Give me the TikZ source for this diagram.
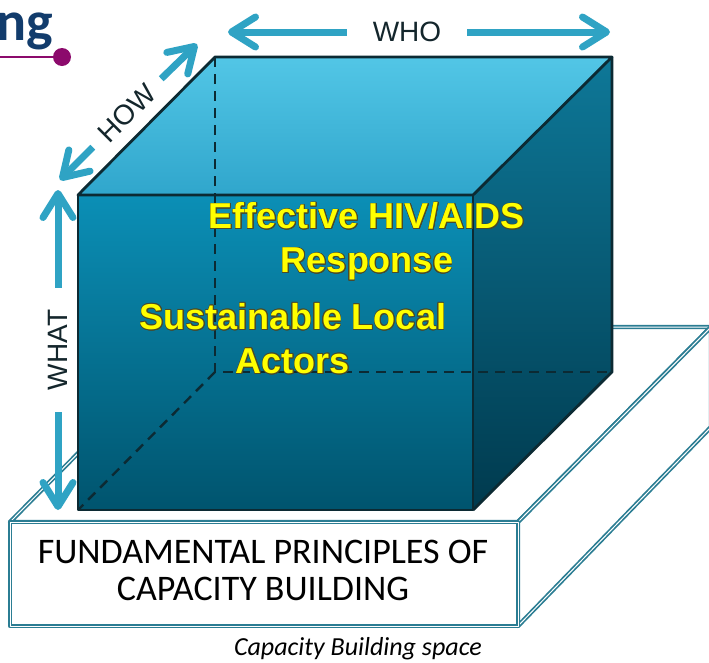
\documentclass[tikz,border=0pt]{standalone}
\usepackage{fontspec}
\setmainfont{Liberation Sans}
\newfontfamily\calfont{Carlito}
\usepackage{contour}
\usetikzlibrary{arrows.meta}
\definecolor{arrowblue}{HTML}{2FA3C4}
\definecolor{cubeline}{HTML}{0C2A33}
\definecolor{slabteal}{HTML}{2B7D93}
\definecolor{labeldark}{HTML}{14262C}
\definecolor{goalyellow}{HTML}{FFFF00}
\definecolor{goalrim}{HTML}{4A4A2A}
\definecolor{logonavy}{HTML}{123C6C}
\definecolor{logopurple}{HTML}{8C0A6C}
\contourlength{0.7pt}
\tikzset{
    cubeedge/.style = {draw = cubeline, line width = 2.8pt, line join = round},
    hiddenedge/.style = {draw = cubeline, line width = 2.4pt, dash pattern = on 10pt off 7pt},
    slabline/.style = {draw = slabteal, double = white, double distance = 1pt, line width = 1.7pt, line join = round},
    dimension/.style = {font = \fontsize{28}{30}\selectfont, text = labeldark, inner ysep = 0pt},
    dimarrow/.style = {draw = arrowblue, line width = 7pt, -{Straight Barb[length = 24pt, width = 30pt, round]}},
    goal/.style = {font = \bfseries\fontsize{36}{44}\selectfont, text = goalyellow, align = center, inner sep = 0pt},
    base text/.style = {font = \calfont\fontsize{36}{37}\selectfont, align = center, inner sep = 0pt}
}
\begin{document}
\begin{tikzpicture}[x = 1pt, y = -1pt]
    \useasboundingbox (0,0) rectangle (709,662);
    \clip (0,0) rectangle (709,662);
    % logo fragment
    \node [anchor = base east, inner sep = 0pt, text = logonavy, font = \calfont\bfseries\fontsize{56}{56}\selectfont] (logo) at (53,40) {ng};
    \coordinate (lstart) at (0,57);
    \node [circle, fill = logopurple, minimum size = 18pt, inner sep = 0pt] (ldot) at (62,57) {};
    \draw [logopurple, line width = 2.5pt] (lstart) -- (ldot);
    % slab
    \coordinate (sTL) at (10,522);
    \coordinate (sTR) at (518,522);
    \coordinate (sBR) at (518,626);
    \coordinate (sBL) at (10,626);
    \coordinate (sbTL) at (203,327);
    \coordinate (sbTR) at (711,327);
    \coordinate (sbBR) at (711,427);
    \draw [slabline, fill = white] (sTL) -- (sbTL) -- (sbTR) -- (sTR) -- cycle;
    \draw [slabline, fill = white] (sTR) -- (sbTR) -- (sbBR) -- (sBR) -- cycle;
    \draw [slabline, fill = white] (sTL) rectangle (sBR);
    \node [base text] (fund) at (263,570) {FUNDAMENTAL PRINCIPLES OF\\CAPACITY BUILDING};
    % cube
    \coordinate (fTL) at (78,195);
    \coordinate (fTR) at (473,195);
    \coordinate (fBR) at (473,510);
    \coordinate (fBL) at (78,510);
    \coordinate (bTL) at (215,57);
    \coordinate (bTR) at (612,57);
    \coordinate (bBR) at (612,372);
    \coordinate (bBL) at (215,372);
    \fill [top color = {rgb,255:red,82;green,198;blue,230}, bottom color = {rgb,255:red,48;green,166;blue,204}] (fTL) -- (bTL) -- (bTR) -- (fTR) -- cycle;
    \fill [top color = {rgb,255:red,11;green,143;blue,182}, bottom color = {rgb,255:red,0;green,84;blue,110}] (fTL) rectangle (fBR);
    \fill [top color = {rgb,255:red,14;green,120;blue,152}, bottom color = {rgb,255:red,0;green,58;blue,78}] (fTR) -- (bTR) -- (bBR) -- (fBR) -- cycle;
    \draw [hiddenedge] (bTL) -- (bBL) -- (bBR);
    \draw [hiddenedge] (bBL) -- (fBL);
    \draw [cubeedge] (fTL) -- (bTL) -- (bTR) -- (fTR) -- cycle;
    \draw [cubeedge] (fTL) rectangle (fBR);
    \draw [cubeedge] (bTR) -- (bBR) -- (fBR);
    \node [goal] (hiv) at (367,242) {\contour{goalrim}{Effective HIV/AIDS}\\\contour{goalrim}{Response}};
    \node [goal] (actors) at (293,339) {\contour{goalrim}{Sustainable Local}\\\contour{goalrim}{Actors}};
    % dimensions
    \node [dimension, inner xsep = 26pt] (who) at (407,32) {WHO};
    \node [dimension, inner xsep = 14pt, rotate = 45] (how) at (127,113) {HOW};
    \node [dimension, inner xsep = 22pt, rotate = 90] (what) at (58,350) {WHAT};
    \coordinate (whoL) at (228,32);
    \coordinate (whoR) at (610,32);
    \coordinate (howU) at (197,44);
    \coordinate (howD) at (60,180);
    \coordinate (whatU) at (58,190);
    \coordinate (whatD) at (58,510);
    \draw [dimarrow] (who.west) -- (whoL);
    \draw [dimarrow] (who.east) -- (whoR);
    \draw [dimarrow] (how.east) -- (howU);
    \draw [dimarrow] (how.west) -- (howD);
    \draw [dimarrow] (what.east) -- (whatU);
    \draw [dimarrow] (what.west) -- (whatD);
    \node [anchor = base, inner sep = 0pt, font = \calfont\itshape\fontsize{26}{26}\selectfont] (caption) at (358,655) {Capacity Building space};
\end{tikzpicture}
\end{document}
